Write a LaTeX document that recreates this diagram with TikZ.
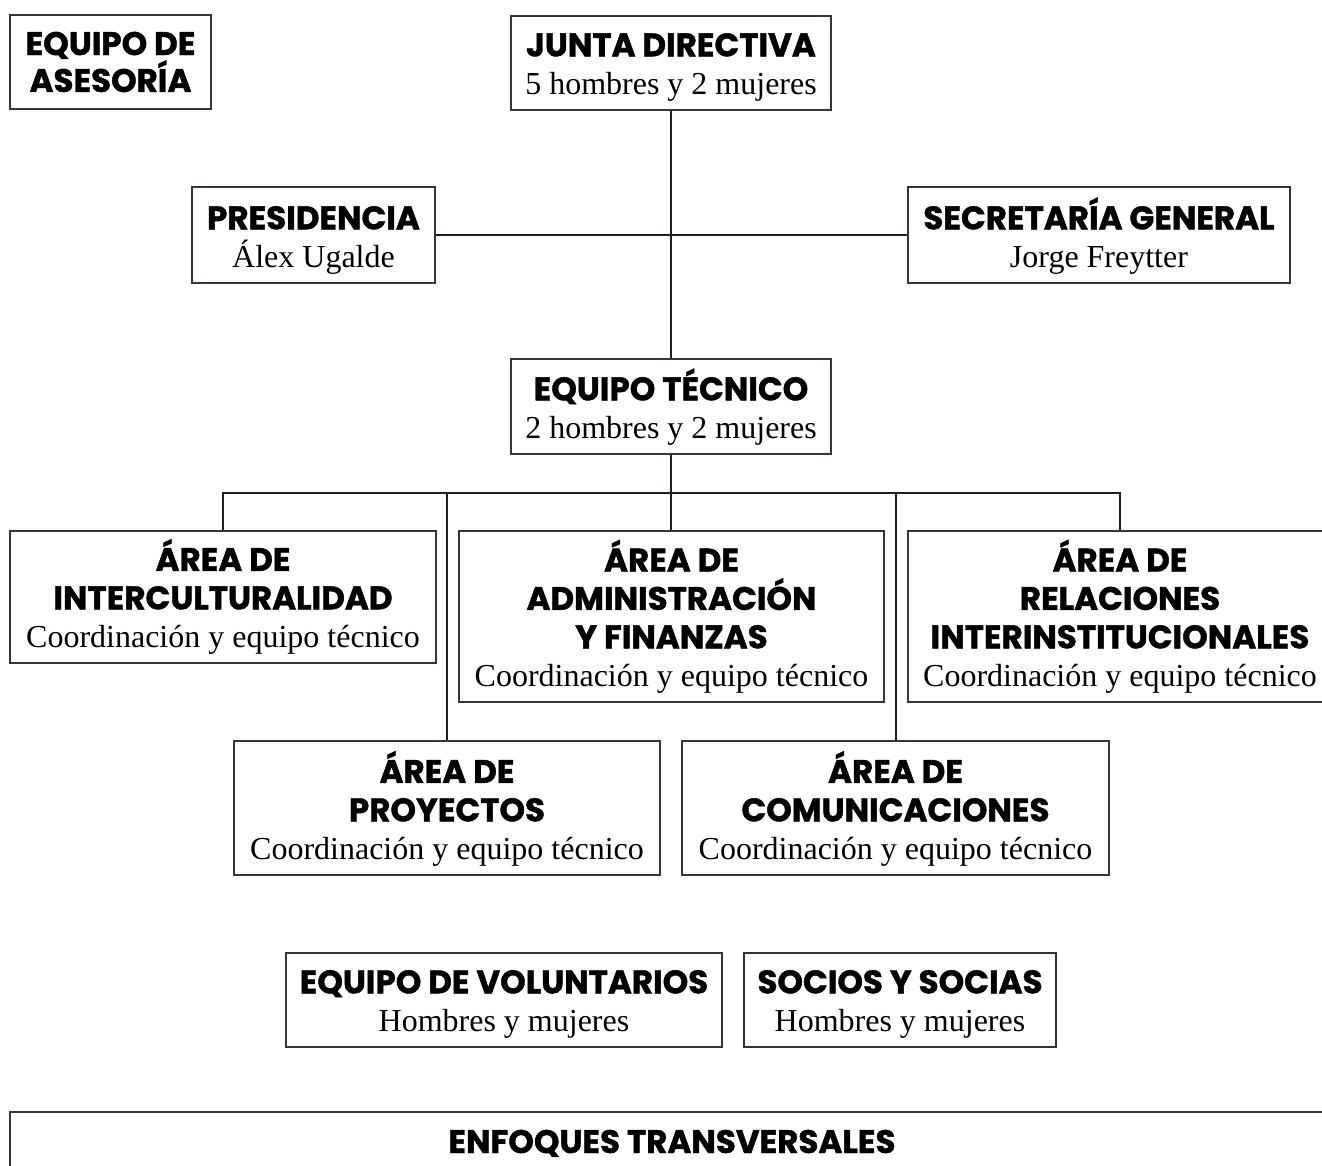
\documentclass[tikz,border=0pt]{standalone}
\usepackage{fontspec}
\setmainfont{Liberation Serif}
\newfontfamily\popfont{Poppins}[BoldFeatures={FakeBold=1.3}]
\usetikzlibrary{fit}
\definecolor{lncol}{HTML}{231F20}
\definecolor{bxcol}{HTML}{3A3532}
\newcommand\bigtx[1]{{\popfont\bfseries\fontsize{24.4}{28.8}\selectfont #1}}
\newcommand\smalltx[1]{{\fontsize{24}{28.8}\selectfont #1\vphantom{y}}}
\tikzset{
  box/.style={draw=bxcol, line width=1.3pt, rectangle, inner sep=0pt},
  txt/.style={align=center, inner sep=0pt, text=black, font=\fontsize{24}{28.8}\selectfont},
  low/.style={txt, anchor=south},
  conn/.style={draw=lncol, line width=1.5pt},
}
\begin{document}
\begin{tikzpicture}[x=0.75pt,y=-0.75pt]
\useasboundingbox (0,0) rectangle (1322,1165);
\fill[white] (0,0) rectangle (1322,1165);
% boxes
\node[box, fit={(10,15) (211,109)}] (ase) {};
\node[txt, font=\fontsize{24}{27.7}\selectfont] (aset) at (ase.center) {\bigtx{EQUIPO DE}\\\bigtx{ASESORÍA}};
\node[box, fit={(511,16) (831,110)}] (jd) {};
\node[low] (jdt) at ([yshift=9*0.75pt]jd.south) {\bigtx{JUNTA DIRECTIVA}\\\smalltx{5 hombres y 2 mujeres}};
\node[box, fit={(192,187) (435,283)}] (pre) {};
\node[low] (pret) at ([yshift=9*0.75pt]pre.south) {\bigtx{PRESIDENCIA}\\\smalltx{Álex Ugalde}};
\node[box, fit={(908,187) (1290,283)}] (sec) {};
\node[low] (sect) at ([yshift=9*0.75pt]sec.south) {\bigtx{SECRETARÍA GENERAL}\\\smalltx{Jorge Freytter}};
\node[box, fit={(511,359) (831,454)}] (et) {};
\node[low] (ett) at ([yshift=9*0.75pt]et.south) {\bigtx{EQUIPO TÉCNICO}\\\smalltx{2 hombres y 2 mujeres}};
\node[box, fit={(10,531) (436,663)}] (inter) {};
\node[low] (intert) at ([yshift=9*0.75pt]inter.south) {\bigtx{ÁREA DE}\\\bigtx{INTERCULTURALIDAD}\\\smalltx{Coordinación y equipo técnico}};
\node[box, fit={(459,531) (884,702)}] (adm) {};
\node[low] (admt) at ([yshift=9*0.75pt]adm.south) {\bigtx{ÁREA DE}\\\bigtx{ADMINISTRACIÓN}\\\bigtx{Y FINANZAS}\\\smalltx{Coordinación y equipo técnico}};
\node[box, fit={(908,531) (1332,702)}] (rel) {};
\node[low] (relt) at ([yshift=9*0.75pt]rel.south) {\bigtx{ÁREA DE}\\\bigtx{RELACIONES}\\\bigtx{INTERINSTITUCIONALES}\\\smalltx{Coordinación y equipo técnico}};
\node[box, fit={(234,741) (660,875)}] (proy) {};
\node[low] (proyt) at ([yshift=9*0.75pt]proy.south) {\bigtx{ÁREA DE}\\\bigtx{PROYECTOS}\\\smalltx{Coordinación y equipo técnico}};
\node[box, fit={(682,741) (1109,875)}] (com) {};
\node[low] (comt) at ([yshift=9*0.75pt]com.south) {\bigtx{ÁREA DE}\\\bigtx{COMUNICACIONES}\\\smalltx{Coordinación y equipo técnico}};
\node[box, fit={(286,953) (722,1047)}] (vol) {};
\node[low] (volt) at ([yshift=9*0.75pt]vol.south) {\bigtx{EQUIPO DE VOLUNTARIOS}\\\smalltx{Hombres y mujeres}};
\node[box, fit={(744,953) (1056,1047)}] (soc) {};
\node[low] (soct) at ([yshift=9*0.75pt]soc.south) {\bigtx{SOCIOS Y SOCIAS}\\\smalltx{Hombres y mujeres}};
\node[box, fit={(10,1112) (1334,1220)}] (enf) {};
\node[txt, anchor=base] (enft) at (672,1153) {\bigtx{ENFOQUES TRANSVERSALES}};
% connectors
\coordinate (busL) at (223,493);
\coordinate (busR) at (1120,493);
\draw[conn] (jd.south) -- (et.north);
\draw[conn] (pre.east) -- (sec.west);
\draw[conn] (et.south) -- (et.south |- adm.north);
\draw[conn] (inter.north) |- (busR) -- (rel.north);
\draw[conn] (proy.north) -- (proy.north |- busL);
\draw[conn] (com.north) -- (com.north |- busL);
\end{tikzpicture}
\end{document}
